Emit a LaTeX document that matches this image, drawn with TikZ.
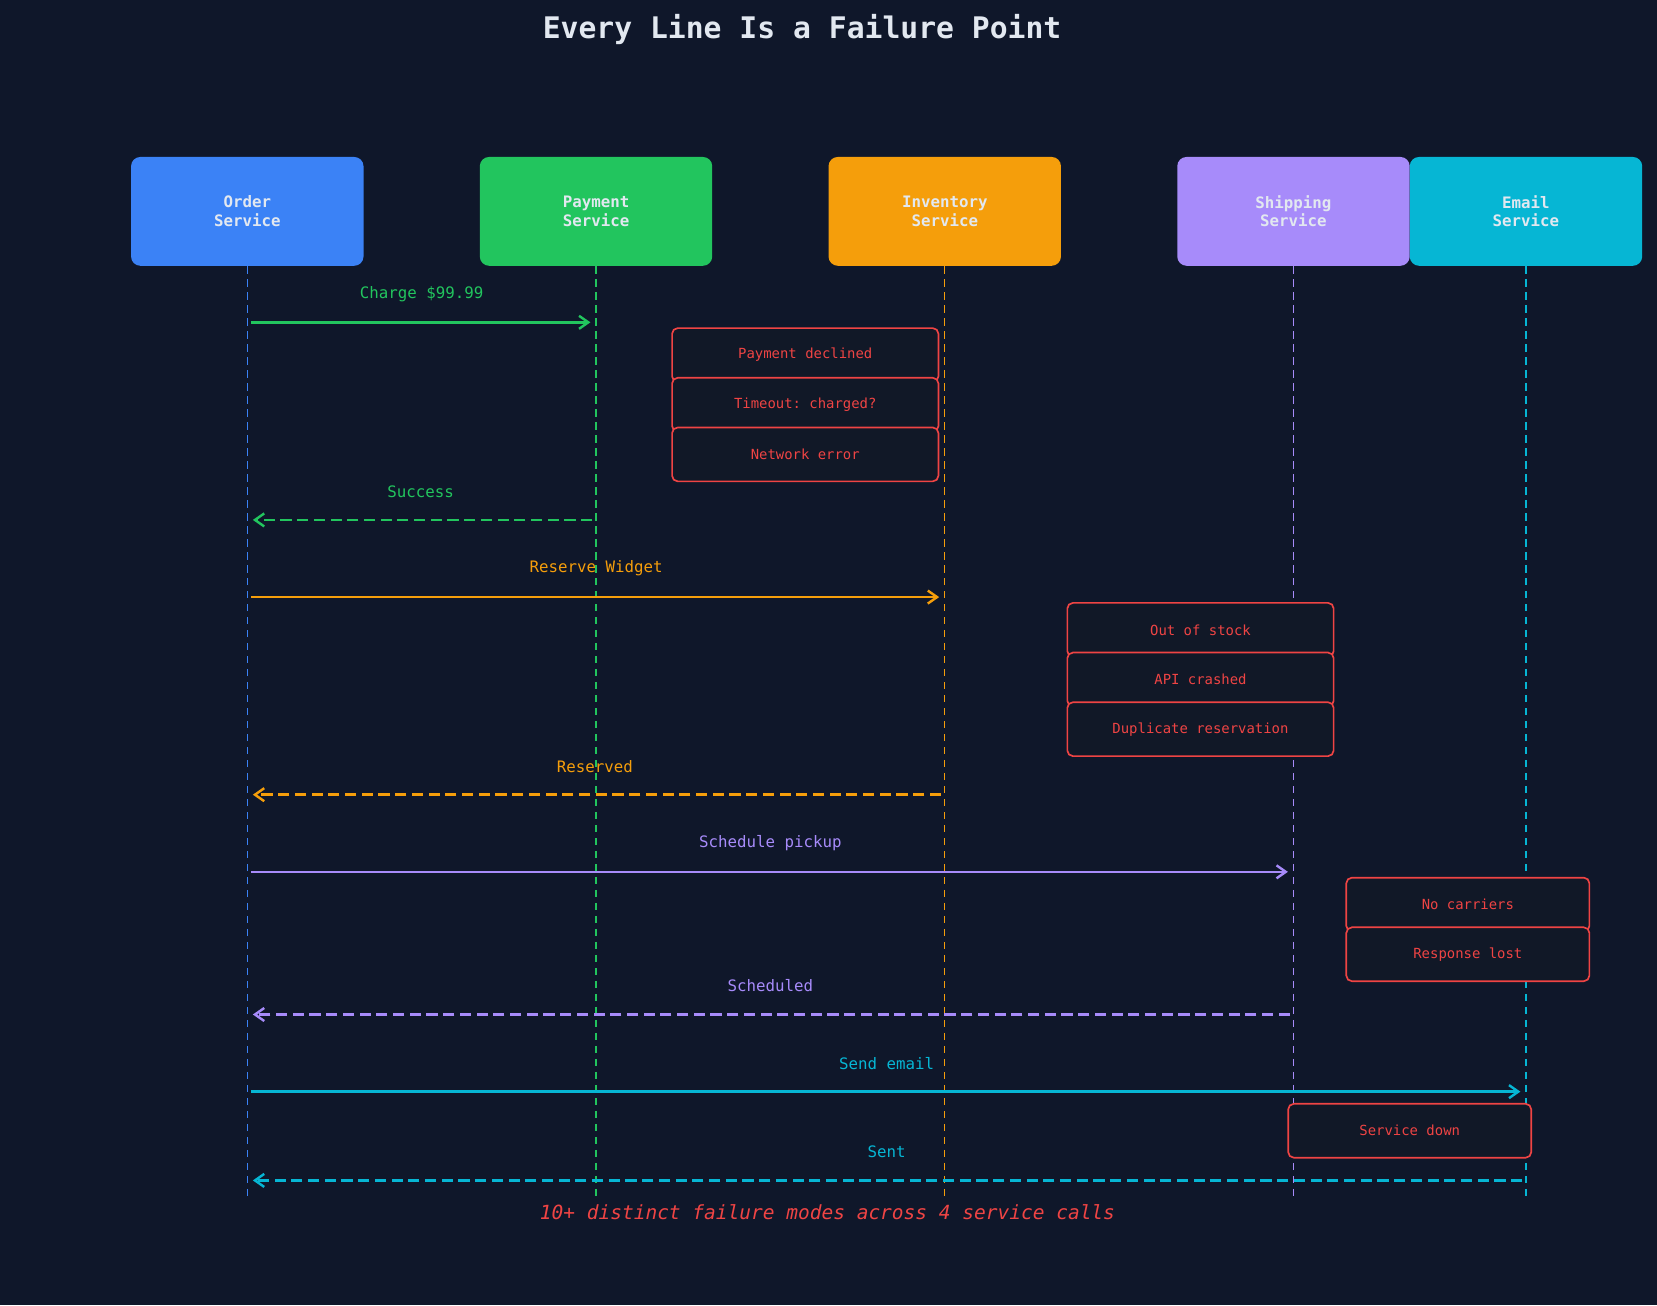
\documentclass[tikz,border=0pt]{standalone}
\usepackage{fontspec}
\setmonofont{DejaVu Sans Mono}
\usetikzlibrary{arrows.meta}
\definecolor{bg}{HTML}{0F172A}
\definecolor{cblue}{HTML}{3B82F6}
\definecolor{cgreen}{HTML}{22C55E}
\definecolor{corange}{HTML}{F59E0B}
\definecolor{cpurple}{HTML}{A78BFA}
\definecolor{ccyan}{HTML}{06B6D4}
\definecolor{cred}{HTML}{EF4444}
\definecolor{fbg}{HTML}{111827}
\definecolor{txt}{HTML}{E2E8F0}
\begin{document}
\begin{tikzpicture}[x=0.02cm,y=-0.02cm,font=\ttfamily,
 svc/.style={rounded corners=5pt,minimum width=4.4cm,minimum height=2.06cm,text=txt,font=\ttfamily\bfseries\fontsize{8.5}{10}\selectfont,align=center},
 life/.style={dashed,line width=0.7pt,dash pattern=on 4pt off 3pt},
 fail/.style={draw=cred,fill=fbg,rounded corners=3pt,line width=0.9pt,text=cred,font=\ttfamily\fontsize{7.5}{9}\selectfont,minimum height=1.02cm},
 msg/.style={line width=1.3pt,-{Straight Barb[length=5pt,width=7pt]}},
 ret/.style={msg,dash pattern=on 6pt off 3pt},
 lbl/.style={font=\ttfamily\fontsize{8.5}{10}\selectfont}]
\fill[bg] (0,0) rectangle (1568,1235);
\useasboundingbox (0,0) rectangle (1568,1235);
\node[text=txt,font=\ttfamily\bfseries\fontsize{16}{18}\selectfont] (title) at (759,28) {Every Line Is a Failure Point};
\foreach \n/\x/\c/\t in {o/234/cblue/Order\\Service,p/564/cgreen/Payment\\Service,i/894/corange/Inventory\\Service,s/1224/cpurple/Shipping\\Service,e/1444/ccyan/Email\\Service}{
 \node[svc,fill=\c] (\n) at (\x,200) {\t};
 \coordinate (\n b) at (\x,1137);
 \draw[life,\c] (\n.south) -- (\n b);
}
% messages
\foreach \y/\from/\to/\c/\s/\t/\lx in {
 305/o/p/cgreen/msg/Charge \$99.99/399,
 492/p/o/cgreen/ret/Success/398,
 565/o/i/corange/msg/Reserve Widget/564,
 752/i/o/corange/ret/Reserved/563,
 825/o/s/cpurple/msg/Schedule pickup/729,
 960/s/o/cpurple/ret/Scheduled/729,
 1033/o/e/ccyan/msg/Send email/839,
 1117/e/o/ccyan/ret/Sent/839}{
 \coordinate (a\y) at (\from |- 0,\y);
 \coordinate (b\y) at (\to |- 0,\y);
 \draw[\s,\c,shorten <=2pt,shorten >=3pt] (a\y) -- (b\y);
 \node[lbl,text=\c] (l\y) at (\lx,\y-27) {\t};
}
\foreach \nm/\x/\y/\w/\t in {
 f1/762/336/252/Payment declined, f2/762/383/252/{Timeout: charged?}, f3/762/430/252/Network error,
 f4/1136/596/252/Out of stock, f5/1136/643/252/API crashed, f6/1136/690/252/Duplicate reservation,
 f7/1389/856/230/No carriers, f8/1389/903/230/Response lost, f9/1334/1070/230/Service down}{
 \node[fail,minimum width=\w*0.02cm] (\nm) at (\x,\y) {\t};
}
\node[text=cred,font=\ttfamily\itshape\fontsize{10.5}{12}\selectfont] (foot) at (783,1147) {10+ distinct failure modes across 4 service calls};
\end{tikzpicture}
\end{document}
